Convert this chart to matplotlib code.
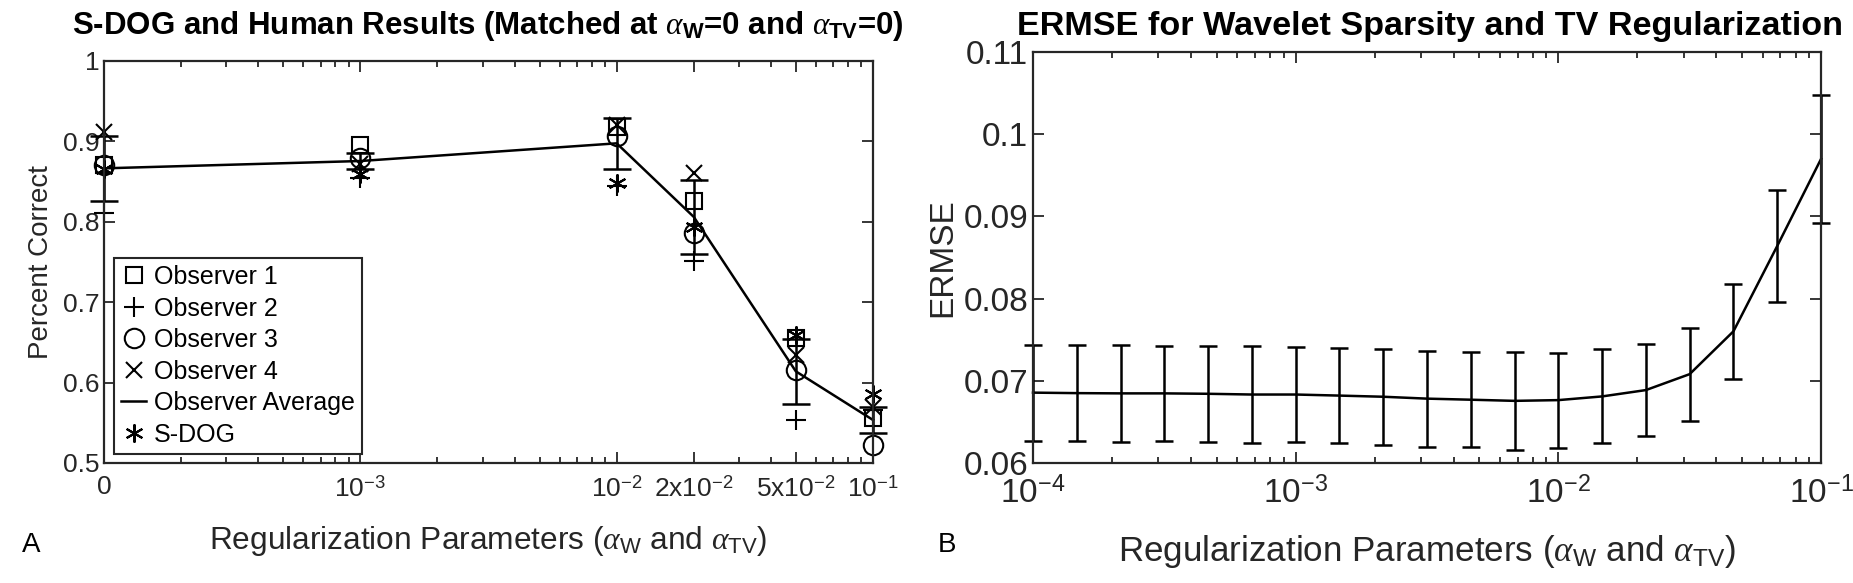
import matplotlib
matplotlib.use("Agg")
import matplotlib.pyplot as plt
from matplotlib import font_manager
from matplotlib.ticker import FixedLocator, FixedFormatter, LogLocator, NullFormatter


def have(name):
    try:
        font_manager.findfont(name, fallback_to_default=False)
        return True
    except Exception:
        return False


# MATLAB figure uses an Arial Narrow look; fall back to Arial metrics
narrow = "Liberation Sans Narrow" if have("Liberation Sans Narrow") else "Liberation Sans"
plt.rcParams["font.family"] = [narrow, "DejaVu Sans"]
plt.rcParams["mathtext.fontset"] = "custom"
plt.rcParams["mathtext.rm"] = narrow
plt.rcParams["mathtext.bf"] = narrow + ":bold"
plt.rcParams["mathtext.it"] = "Liberation Serif:italic"

# ---- panel A data ----
alpha_vals = [1e-4, 1e-3, 1e-2, 2e-2, 5e-2, 1e-1]
alpha_labels = ["0", "$10^{-3}$", "$10^{-2}$", "2x$10^{-2}$", "5x$10^{-2}$", "$10^{-1}$"]
observer1 = [0.871, 0.8955, 0.918, 0.826, 0.655, 0.5555]
observer2 = [0.811, 0.855, 0.845, 0.751, 0.553, 0.566]
observer3 = [0.871, 0.879, 0.907, 0.786, 0.616, 0.5224]
observer4 = [0.912, 0.872, 0.920, 0.861, 0.634, 0.570]
observer_avg = [0.8665, 0.8756, 0.8976, 0.806, 0.614, 0.5535]
observer_err = [0.0405, 0.0097, 0.0315, 0.0465, 0.040, 0.0165]
sdog = [0.866, 0.860, 0.848, 0.794, 0.659, 0.586]

# ---- panel B data ----
reg_vals = [1e-4, 1.468e-4, 2.154e-4, 3.162e-4, 4.642e-4, 6.813e-4,
            1e-3, 1.468e-3, 2.154e-3, 3.162e-3, 4.642e-3, 6.813e-3,
            1e-2, 1.468e-2, 2.154e-2, 3.162e-2, 4.642e-2, 6.813e-2, 1e-1]
ermse_mean = [0.06856, 0.0685, 0.06847, 0.06847, 0.06842, 0.06833, 0.06833,
              0.0682, 0.06806, 0.06783, 0.0677, 0.06756, 0.06765, 0.0681,
              0.06887, 0.07081, 0.07602, 0.0864, 0.09698]
ermse_err = [0.00583, 0.00587, 0.00587, 0.00582, 0.00587, 0.00593, 0.00578,
             0.00577, 0.00582, 0.00585, 0.00578, 0.00592, 0.00578, 0.00571,
             0.00557, 0.00567, 0.00576, 0.00677, 0.00778]

axcol = "#262626"
W, H = 1853, 583

fig = plt.figure(figsize=(W / 100, H / 100), dpi=100)
axA = fig.add_axes([104 / W, 1 - 463 / H, 769 / W, 402 / H])
axB = fig.add_axes([1033 / W, 1 - 463 / H, 788 / W, 411 / H])
renderer = fig.canvas.get_renderer()


def fit_width(txt, target):
    # scale font so the text spans about as many pixels as in the source figure
    w = txt.get_window_extent(renderer).width
    txt.set_fontsize(txt.get_fontsize() * target / w)


def matlab_style(ax, size):
    ax.set_xscale("log")
    for s in ax.spines.values():
        s.set_color(axcol)
        s.set_linewidth(1.6)
    ax.tick_params(which="both", direction="in", top=True, right=True,
                   colors=axcol, labelcolor=axcol, labelsize=size, width=1.3)
    ax.tick_params(which="major", length=8)
    ax.tick_params(which="minor", length=4)
    ax.xaxis.set_minor_locator(LogLocator(base=10, subs=range(2, 10), numticks=20))
    ax.xaxis.set_minor_formatter(NullFormatter())


# panel A
matlab_style(axA, 19)
mk = dict(color="black", linestyle="none", markerfacecolor="none",
          markeredgewidth=1.5, clip_on=False)
axA.plot(alpha_vals, observer1, marker="s", markersize=11, label="Observer 1", **mk)
axA.plot(alpha_vals, observer2, marker="+", markersize=15, label="Observer 2", **mk)
axA.plot(alpha_vals, observer3, marker="o", markersize=14, label="Observer 3", **mk)
axA.plot(alpha_vals, observer4, marker="x", markersize=11, label="Observer 4", **mk)
axA.plot(alpha_vals, observer_avg, color="black", linewidth=1.8,
         label="Observer Average", clip_on=False)
eb = axA.errorbar(alpha_vals, observer_avg, yerr=observer_err, fmt="none", ecolor="black",
                  elinewidth=1.8, capsize=10, capthick=1.8)
for art in eb.lines[1] + eb.lines[2]:
    art.set_clip_on(False)
axA.plot(alpha_vals, sdog, marker=(6, 2, 0), markersize=13, label="S-DOG", **mk)

axA.set_xlim(1e-4, 1e-1)
axA.set_ylim(0.5, 1.0)
axA.xaxis.set_major_locator(FixedLocator(alpha_vals))
axA.xaxis.set_major_formatter(FixedFormatter(alpha_labels))
axA.set_yticks([0.5, 0.6, 0.7, 0.8, 0.9, 1.0])
axA.set_yticklabels(["0.5", "0.6", "0.7", "0.8", "0.9", "1"])
axA.tick_params(axis="x", pad=9)
axA.set_ylabel("Percent Correct", fontsize=20, color=axcol, labelpad=6)
leg = axA.legend(loc="lower left", bbox_to_anchor=(0.013, 0.022), fontsize=18,
                 fancybox=False, edgecolor=axcol, framealpha=1, handlelength=1.0,
                 handletextpad=0.3, labelspacing=0.3, borderpad=0.3, borderaxespad=0)
leg.get_frame().set_linewidth(1.5)

titleA = fig.text(488 / W, 1 - 26 / H,
                  r"S-DOG and Human Results (Matched at $\alpha_{\mathbf{W}}$=0 and $\alpha_{\mathbf{TV}}$=0)",
                  fontsize=18, fontweight="bold", ha="center", va="center")
fit_width(titleA, 834)
xlabA = fig.text(488 / W, 1 - 541 / H,
                 r"Regularization Parameters ($\alpha_{\mathrm{W}}$ and $\alpha_{\mathrm{TV}}$)",
                 fontsize=19, color=axcol, ha="center", va="center")
fit_width(xlabA, 558)

# panel B
matlab_style(axB, 24)
ebB = axB.errorbar(reg_vals, ermse_mean, yerr=ermse_err, color="black", linewidth=1.8,
                   elinewidth=1.8, capsize=6.5, capthick=1.8)
for art in [ebB.lines[0]] + list(ebB.lines[1]) + list(ebB.lines[2]):
    art.set_clip_on(False)
axB.set_xlim(1e-4, 1e-1)
axB.set_ylim(0.06, 0.11)
axB.xaxis.set_major_locator(FixedLocator([1e-4, 1e-3, 1e-2, 1e-1]))
axB.xaxis.set_major_formatter(FixedFormatter(["$10^{-4}$", "$10^{-3}$", "$10^{-2}$", "$10^{-1}$"]))
axB.set_yticks([0.06, 0.07, 0.08, 0.09, 0.10, 0.11])
axB.set_yticklabels(["0.06", "0.07", "0.08", "0.09", "0.1", "0.11"])
axB.tick_params(axis="x", pad=10)
axB.set_ylabel("ERMSE", fontsize=24, color=axcol, labelpad=4)

titleB = fig.text(1430 / W, 1 - 26 / H, "ERMSE for Wavelet Sparsity and TV Regularization",
                  fontsize=21, fontweight="bold", ha="center", va="center")
fit_width(titleB, 825)
xlabB = fig.text(1427 / W, 1 - 552 / H,
                 r"Regularization Parameters ($\alpha_{\mathrm{W}}$ and $\alpha_{\mathrm{TV}}$)",
                 fontsize=24, color=axcol, ha="center", va="center")
fit_width(xlabB, 618)

fig.text(22 / W, 1 - 545 / H, "A", fontsize=20, va="center")
fig.text(938 / W, 1 - 545 / H, "B", fontsize=20, va="center")

fig.savefig("out.png", dpi=100)
